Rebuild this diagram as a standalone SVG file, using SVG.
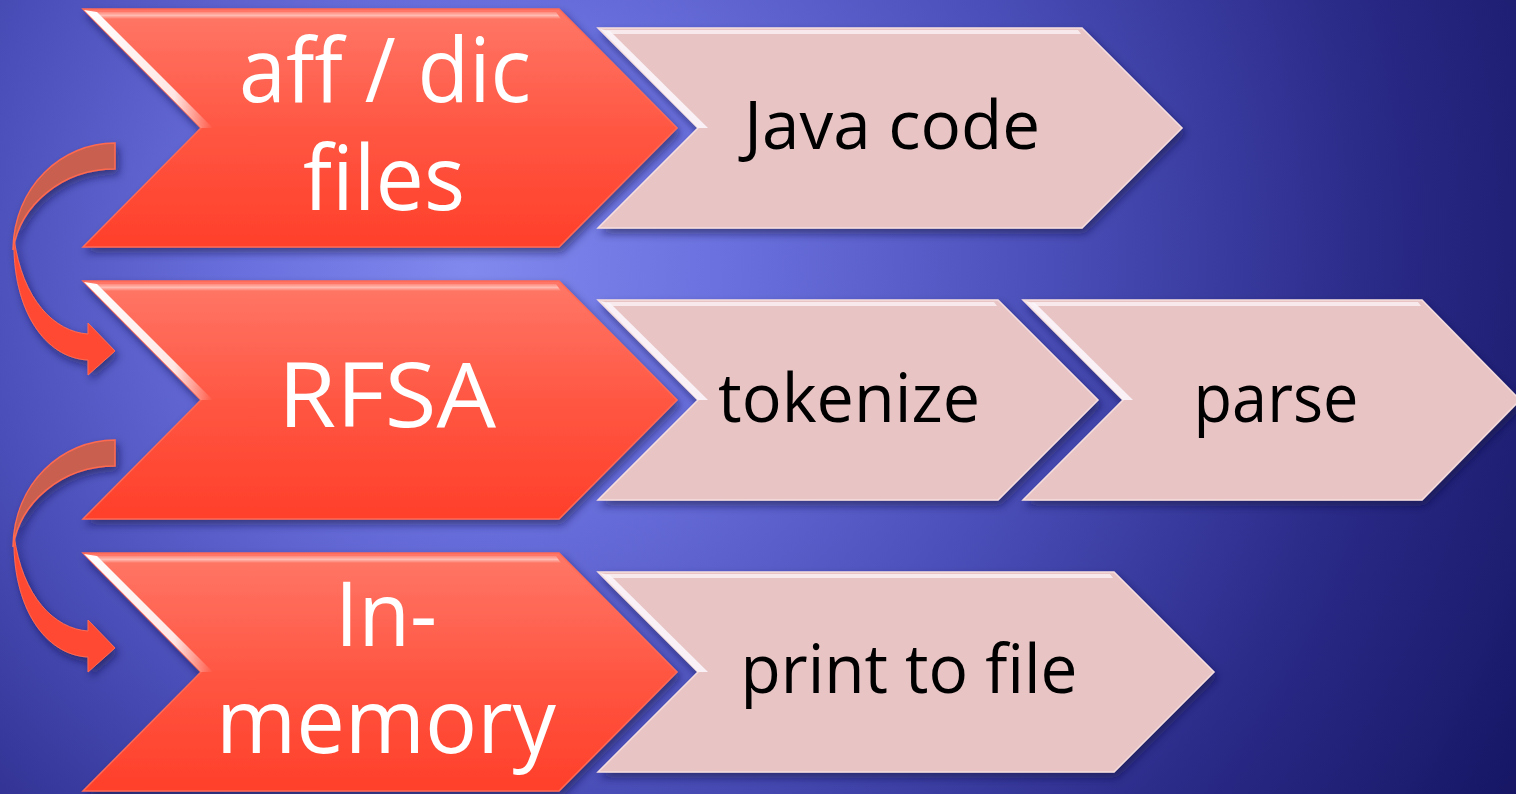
<svg xmlns="http://www.w3.org/2000/svg" width="1516" height="794" viewBox="0 0 1516 794">
  <style>
    .red { fill: url(#redFill); stroke: #ff6a55; stroke-width: 1.5; }
    .pink { fill: #e8c4c5; stroke: #f6dede; stroke-width: 1.5; }
    .gloss { fill: url(#glossFill); }
    .bevel { fill: url(#bevelFill); }
    .pbevel { fill: #fbf6fa; opacity: 0.9; }
    .ptop { fill: #faf0f3; opacity: 0.85; }
    .wt { font-family: "Open Sans", "Noto Sans", sans-serif; font-size: 90px; fill: #ffffff; text-anchor: middle; }
    .bt { font-family: "Open Sans", "Noto Sans", sans-serif; font-size: 68px; fill: #000000; text-anchor: middle; }
    .back { fill: #c9604f; stroke: #ff6a50; stroke-width: 1.5; }
    .front { fill: #ff4a32; stroke: #ff6a50; stroke-width: 1; }
  </style>
  <defs>
    <radialGradient id="bg" gradientUnits="userSpaceOnUse" cx="560" cy="230" r="1200" fx="470" fy="270">
      <stop offset="0" stop-color="#8189ee"/>
      <stop offset="0.2" stop-color="#6a70de"/>
      <stop offset="0.45" stop-color="#4a4eb8"/>
      <stop offset="0.7" stop-color="#2a2a88"/>
      <stop offset="1" stop-color="#10105a"/>
    </radialGradient>
    <linearGradient id="redFill" x1="0" y1="0" x2="0" y2="1">
      <stop offset="0" stop-color="#ff7767"/>
      <stop offset="0.5" stop-color="#ff5743"/>
      <stop offset="1" stop-color="#ff3f2a"/>
    </linearGradient>
    <linearGradient id="glossFill" x1="0" y1="0" x2="0" y2="1">
      <stop offset="0" stop-color="#ffffff" stop-opacity="0.15"/>
      <stop offset="0.5" stop-color="#ffffff" stop-opacity="0.5"/>
      <stop offset="1" stop-color="#ffffff" stop-opacity="0"/>
    </linearGradient>
    <linearGradient id="bevelFill" x1="0" y1="0" x2="1" y2="0">
      <stop offset="0" stop-color="#ffffff" stop-opacity="1"/>
      <stop offset="0.7" stop-color="#ffffff" stop-opacity="0.85"/>
      <stop offset="1" stop-color="#ffffff" stop-opacity="0"/>
    </linearGradient>
    <filter id="shadow" x="-10%" y="-10%" width="125%" height="130%">
      <feDropShadow dx="3" dy="5" stdDeviation="4" flood-color="#0a0a40" flood-opacity="0.55"/>
    </filter>
  </defs>

  <!-- backdrop -->
  <rect x="0" y="0" width="1516" height="794" fill="url(#bg)"/>

  <!-- curved connectors between the red steps -->
  <g id="connectors" filter="url(#shadow)">
    <g id="curve-1">
      <path class="back" d="M115,143 C62,143 14,186 13,250 C20,205 62,169 115,169 Z"/>
      <path class="front" d="M14,238 C12,310 45,358 88,360 L88,375 L115,351 L88,323 L88,334 C55,332 22,300 14,238 Z"/>
    </g>
    <g id="curve-2">
      <path class="back" d="M115,440 C62,440 14,483 13,547 C20,502 62,466 115,466 Z"/>
      <path class="front" d="M14,535 C12,607 45,655 88,657 L88,672 L115,648 L88,620 L88,631 C55,629 22,597 14,535 Z"/>
    </g>
  </g>

  <!-- red steps -->
  <g id="step-aff-dic">
    <polygon class="red" filter="url(#shadow)" points="83,9 559,9 677,128 559,247 83,247 201,128"/>
    <polygon class="gloss" points="92,12 556,12 561,19 98,19"/>
    <polygon class="bevel" points="84,10 97,12 213,128 201,128"/>
    <text class="wt" x="385" y="102" textLength="292" lengthAdjust="spacingAndGlyphs">aff / dic</text>
    <text class="wt" x="384" y="210" textLength="162" lengthAdjust="spacingAndGlyphs">files</text>
  </g>
  <g id="step-rfsa">
    <polygon class="red" filter="url(#shadow)" points="83,281 559,281 677,400 559,519 83,519 201,400"/>
    <polygon class="gloss" points="92,284 556,284 561,291 98,291"/>
    <polygon class="bevel" points="84,282 97,284 213,400 201,400"/>
    <text class="wt" x="387" y="427" textLength="218" lengthAdjust="spacingAndGlyphs">RFSA</text>
  </g>
  <g id="step-in-memory">
    <polygon class="red" filter="url(#shadow)" points="83,553 559,553 677,672 559,791 83,791 201,672"/>
    <polygon class="gloss" points="92,556 556,556 561,563 98,563"/>
    <polygon class="bevel" points="84,554 97,556 213,672 201,672"/>
    <text class="wt" x="386" y="646" textLength="102" lengthAdjust="spacingAndGlyphs">In-</text>
    <text class="wt" x="386" y="753" textLength="340" lengthAdjust="spacingAndGlyphs">memory</text>
  </g>

  <!-- pink steps -->
  <g id="step-java-code">
    <polygon class="pink" filter="url(#shadow)" points="598,28 1082,28 1182,128 1082,228 598,228 698,128"/>
    <polygon class="ptop" points="606,30 1078,30 1081,34 610,34"/>
    <polygon class="pbevel" points="600,29 610,31 708,128 698,128"/>
    <text class="bt" x="892" y="149" textLength="296" lengthAdjust="spacingAndGlyphs">Java code</text>
  </g>
  <g id="step-tokenize">
    <polygon class="pink" filter="url(#shadow)" points="598,300 998,300 1098,400 998,500 598,500 698,400"/>
    <polygon class="ptop" points="606,302 994,302 997,306 610,306"/>
    <polygon class="pbevel" points="600,301 610,303 708,400 698,400"/>
    <text class="bt" x="849" y="422" textLength="262" lengthAdjust="spacingAndGlyphs">tokenize</text>
  </g>
  <g id="step-parse">
    <polygon class="pink" filter="url(#shadow)" points="1023,300 1422,300 1520,400 1422,500 1023,500 1123,400"/>
    <polygon class="ptop" points="1031,302 1418,302 1421,306 1035,306"/>
    <polygon class="pbevel" points="1025,301 1035,303 1133,400 1123,400"/>
    <text class="bt" x="1276" y="422" textLength="165" lengthAdjust="spacingAndGlyphs">parse</text>
  </g>
  <g id="step-print">
    <polygon class="pink" filter="url(#shadow)" points="598,572 1114,572 1214,672 1114,772 598,772 698,672"/>
    <polygon class="ptop" points="606,574 1110,574 1113,578 610,578"/>
    <polygon class="pbevel" points="600,573 610,575 708,672 698,672"/>
    <text class="bt" x="909" y="693" textLength="337" lengthAdjust="spacingAndGlyphs">print to file</text>
  </g>
</svg>
